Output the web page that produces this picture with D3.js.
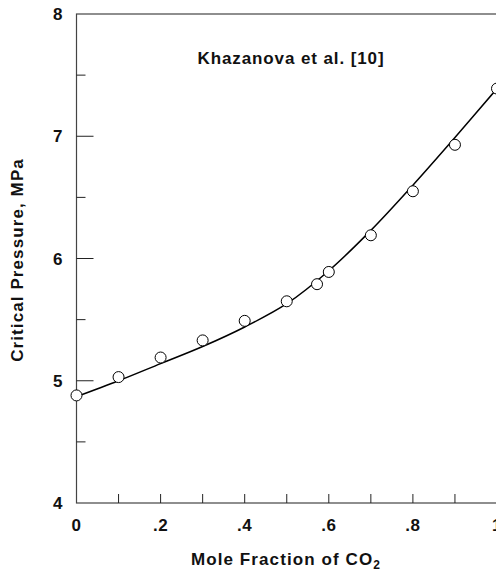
<!DOCTYPE html>
<html>
<head>
<meta charset="utf-8">
<script src="https://cdn.jsdelivr.net/npm/d3@7"></script>
<style>
  body { margin: 0; background: #fff; }
  text { font-family: "Liberation Sans", Arial, sans-serif; font-weight: bold; fill: #111; }
</style>
</head>
<body>
<div id="chart"></div>
<script>
// Measured points (Khazanova et al.)
const obsX = [0, 0.1, 0.2, 0.3, 0.4, 0.5, 0.572, 0.6, 0.7, 0.8, 0.9, 1.0];
const obsP = [4.88, 5.03, 5.19, 5.33, 5.49, 5.65, 5.79, 5.89, 6.19, 6.55, 6.93, 7.39];

// Fitted curve
const fitX = [0, 0.1, 0.2, 0.3, 0.4, 0.5, 0.6, 0.7, 0.8, 0.9, 1.0];
const fitP = [4.87, 5.00, 5.14, 5.28, 5.44, 5.63, 5.90, 6.23, 6.60, 6.99, 7.39];

const yTicks = [4, 5, 6, 7, 8];
const yMinor = [4.5, 5.5, 6.5, 7.5];
const xTicks = [0.1, 0.2, 0.3, 0.4, 0.5, 0.6, 0.7, 0.8, 0.9];
const xLabels = [0, 0.2, 0.4, 0.6, 0.8, 1.0];

const width = 496, height = 576;
const margin = { top: 14, left: 76.5, right: -1, bottom: 73 };

const svg = d3.select('#chart').append('svg')
  .attr('width', width)
  .attr('height', height);

const x = d3.scaleLinear().domain([0, 1]).range([margin.left, width - margin.right]);
const y = d3.scaleLinear().domain([4, 8]).range([height - margin.bottom, margin.top]);

// frame (right side falls just outside the picture)
svg.append('rect')
  .attr('x', x(0)).attr('y', y(8))
  .attr('width', x(1) - x(0)).attr('height', y(4) - y(8))
  .attr('fill', 'none').attr('stroke', '#444').attr('stroke-width', 1.2);

// y ticks, drawn inward
svg.selectAll('line.ymajor').data(yTicks.slice(1, 4)).enter().append('line')
  .attr('class', 'ymajor')
  .attr('x1', x(0)).attr('x2', x(0) + 17)
  .attr('y1', d => y(d)).attr('y2', d => y(d))
  .attr('stroke', '#222');
svg.selectAll('line.yminor').data(yMinor).enter().append('line')
  .attr('class', 'yminor')
  .attr('x1', x(0)).attr('x2', x(0) + 9)
  .attr('y1', d => y(d)).attr('y2', d => y(d))
  .attr('stroke', '#222');

// x ticks
svg.selectAll('line.xtick').data(xTicks).enter().append('line')
  .attr('class', 'xtick')
  .attr('x1', d => x(d)).attr('x2', d => x(d))
  .attr('y1', y(4)).attr('y2', y(4) - 9)
  .attr('stroke', '#222');

// tick labels
svg.selectAll('text.ylab').data(yTicks).enter().append('text')
  .attr('class', 'ylab')
  .attr('x', x(0) - 14)
  .attr('y', d => y(d))
  .attr('dy', '0.36em')
  .attr('text-anchor', 'end')
  .attr('font-size', 17)
  .text(d => d);

const fmt = d => d === 0 ? '0' : d === 1 ? '1' : d3.format('.1f')(d).replace(/^0/, '');
svg.selectAll('text.xlab').data(xLabels).enter().append('text')
  .attr('class', 'xlab')
  .attr('x', d => x(d))
  .attr('y', y(4) + 28)
  .attr('text-anchor', 'middle')
  .attr('font-size', 17)
  .attr('letter-spacing', 0.5)
  .text(fmt);

// axis titles
const xt = svg.append('text')
  .attr('x', 286).attr('y', 565)
  .attr('text-anchor', 'middle')
  .attr('font-size', 17)
  .attr('letter-spacing', 1.1);
xt.append('tspan').text('Mole Fraction of CO');
xt.append('tspan').attr('dy', 4).attr('font-size', 12).text('2');

svg.append('text')
  .attr('transform', `translate(23, 260) rotate(-90)`)
  .attr('text-anchor', 'middle')
  .attr('font-size', 17)
  .attr('letter-spacing', 1.1)
  .text('Critical Pressure, MPa');

svg.append('text')
  .attr('x', 291).attr('y', 64)
  .attr('text-anchor', 'middle')
  .attr('font-size', 17)
  .attr('letter-spacing', 0.9)
  .text('Khazanova et al. [10]');

// fitted curve
const line = d3.line()
  .x(d => x(d[0]))
  .y(d => y(d[1]))
  .curve(d3.curveCatmullRom.alpha(0.5));

svg.append('path')
  .datum(d3.zip(fitX, fitP))
  .attr('d', line)
  .attr('fill', 'none')
  .attr('stroke', '#000')
  .attr('stroke-width', 1.5);

// measured points
svg.selectAll('circle.obs').data(d3.zip(obsX, obsP)).enter().append('circle')
  .attr('class', 'obs')
  .attr('cx', d => x(d[0]))
  .attr('cy', d => y(d[1]))
  .attr('r', 5.5)
  .attr('fill', '#fff')
  .attr('stroke', '#000')
  .attr('stroke-width', 1);
</script>
</body>
</html>
